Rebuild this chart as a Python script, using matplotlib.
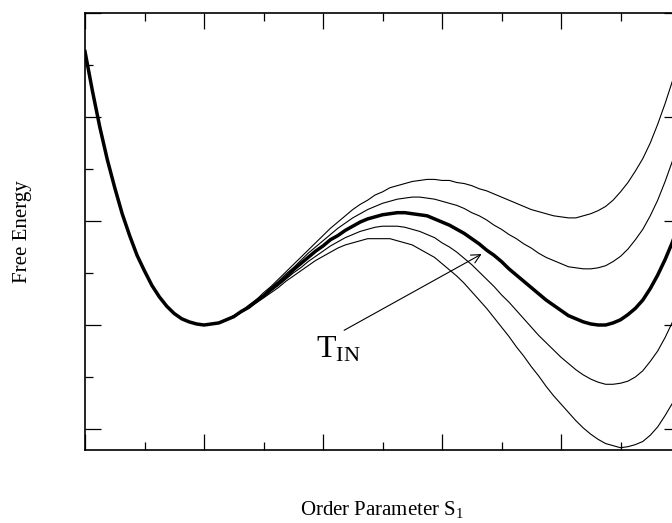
#!/usr/bin/env python3
"""
Свободная энергия vs параметр порядка S1 (семейство кривых около T_IN)
"""

import matplotlib
matplotlib.use("Agg")
import matplotlib.pyplot as plt
from matplotlib.ticker import MultipleLocator

# Параметр порядка (общая сетка для всех кривых, шаг 1/16)
order_param = [
    0.0, 0.0625, 0.125, 0.1875, 0.25, 0.3125, 0.375, 0.4375,
    0.5, 0.5625, 0.625, 0.6875, 0.75, 0.8125, 0.875, 0.9375,
    1.0, 1.0625, 1.125, 1.1875, 1.25, 1.3125, 1.375, 1.4375,
    1.5, 1.5625, 1.625, 1.6875, 1.75, 1.8125, 1.875, 1.9375,
    2.0, 2.0625, 2.125, 2.1875, 2.25, 2.3125, 2.375, 2.4375,
    2.5, 2.5625, 2.625, 2.6875, 2.75, 2.8125, 2.875, 2.9375,
    3.0, 3.0625, 3.125, 3.1875, 3.25, 3.3125, 3.375, 3.4375,
    3.5, 3.5625, 3.625, 3.6875, 3.75, 3.8125, 3.875, 3.9375,
    4.0, 4.0625, 4.125, 4.1875, 4.25, 4.3125, 4.375, 4.4375,
    4.5, 4.5625, 4.625, 4.6875, 4.75, 4.8125, 4.875, 4.9375, 5.0]

# левая ветвь (S от 0 до 1) одинакова для всех температур
left_branch = [3.63, 3.25, 2.90, 2.59, 2.32, 2.07, 1.86, 1.67,
               1.52, 1.38, 1.27, 1.18, 1.11, 1.06, 1.03, 1.01, 1.00]

energy_t1 = left_branch + [
    1.01, 1.02, 1.05, 1.09, 1.13, 1.19, 1.24,
    1.31, 1.37, 1.44, 1.51, 1.58, 1.65, 1.72, 1.79,
    1.86, 1.93, 1.99, 2.05, 2.11, 2.16, 2.20, 2.25,
    2.28, 2.32, 2.34, 2.36, 2.38, 2.39, 2.40, 2.40,
    2.39, 2.39, 2.37, 2.36, 2.34, 2.31, 2.29, 2.26,
    2.23, 2.20, 2.17, 2.14, 2.11, 2.09, 2.07, 2.05,
    2.04, 2.03, 2.03, 2.05, 2.07, 2.10, 2.14, 2.20,
    2.28, 2.37, 2.48, 2.60, 2.75, 2.93, 3.13, 3.35, 3.61]

energy_t2 = left_branch + [
    1.01, 1.02, 1.05, 1.09, 1.13, 1.18, 1.23,
    1.29, 1.36, 1.42, 1.49, 1.55, 1.62, 1.69, 1.75,
    1.81, 1.87, 1.93, 1.98, 2.03, 2.07, 2.11, 2.14,
    2.17, 2.19, 2.21, 2.22, 2.23, 2.23, 2.22, 2.21,
    2.19, 2.17, 2.15, 2.12, 2.08, 2.05, 2.01, 1.96,
    1.92, 1.87, 1.83, 1.78, 1.74, 1.69, 1.65, 1.62,
    1.59, 1.56, 1.55, 1.54, 1.54, 1.55, 1.57, 1.61,
    1.66, 1.73, 1.82, 1.92, 2.05, 2.20, 2.38, 2.58, 2.81]

energy_tin = left_branch + [
    1.01, 1.02, 1.05, 1.08, 1.13, 1.17, 1.23,
    1.28, 1.34, 1.40, 1.46, 1.53, 1.59, 1.65, 1.71,
    1.76, 1.82, 1.86, 1.91, 1.95, 1.99, 2.02, 2.04,
    2.06, 2.07, 2.08, 2.08, 2.07, 2.06, 2.05, 2.02,
    1.99, 1.96, 1.92, 1.88, 1.83, 1.78, 1.72, 1.67,
    1.61, 1.54, 1.48, 1.42, 1.36, 1.30, 1.24, 1.19,
    1.14, 1.09, 1.06, 1.03, 1.01, 1.00, 1.00, 1.02,
    1.05, 1.10, 1.16, 1.24, 1.35, 1.48, 1.63, 1.80, 2.01]

energy_t4 = left_branch + [
    1.01, 1.02, 1.05, 1.08, 1.12, 1.17, 1.22,
    1.27, 1.33, 1.38, 1.44, 1.50, 1.55, 1.61, 1.66,
    1.71, 1.76, 1.80, 1.84, 1.87, 1.90, 1.92, 1.94,
    1.95, 1.95, 1.95, 1.94, 1.92, 1.90, 1.87, 1.84,
    1.79, 1.75, 1.70, 1.64, 1.58, 1.51, 1.44, 1.37,
    1.29, 1.22, 1.14, 1.06, 0.98, 0.90, 0.83, 0.76,
    0.69, 0.63, 0.57, 0.52, 0.48, 0.45, 0.43, 0.43,
    0.44, 0.46, 0.50, 0.56, 0.65, 0.75, 0.88, 1.03, 1.21]

energy_t5 = left_branch + [
    1.01, 1.02, 1.05, 1.08, 1.12, 1.16, 1.21,
    1.26, 1.31, 1.36, 1.42, 1.47, 1.52, 1.57, 1.62,
    1.66, 1.70, 1.74, 1.77, 1.79, 1.81, 1.83, 1.83,
    1.83, 1.83, 1.81, 1.79, 1.77, 1.73, 1.69, 1.65,
    1.59, 1.53, 1.47, 1.40, 1.32, 1.24, 1.16, 1.07,
    0.98, 0.89, 0.79, 0.70, 0.60, 0.51, 0.41, 0.32,
    0.24, 0.16, 0.08, 0.01, -0.05, -0.10, -0.14, -0.16,
    -0.18, -0.17, -0.15, -0.12, -0.06, 0.02, 0.13, 0.25, 0.41]

thin_curves = [energy_t1, energy_t2, energy_t4, energy_t5]

# стрелка к кривой T_IN
arrow_start = (2.157, 0.936)
arrow_end = (3.353, 1.695)
label_pos = (1.94, 0.69)


def plot_free_energy():
    plt.rcParams['font.family'] = ['Liberation Serif', 'DejaVu Serif']
    plt.rcParams['mathtext.fontset'] = 'custom'
    plt.rcParams['mathtext.rm'] = 'Liberation Serif'
    plt.rcParams['mathtext.it'] = 'Liberation Serif:italic'

    fig = plt.figure(figsize=(6.72, 5.23), dpi=100)
    # правая граница осей уходит за край картинки (как в оригинале)
    ax = fig.add_axes([85 / 672, 1 - 450 / 523, 595 / 672, 437 / 523])

    for curve in thin_curves:
        ax.plot(order_param, curve, color='black', linewidth=0.8)
    ax.plot(order_param, energy_tin, color='black', linewidth=2.5)

    ax.annotate('', xy=arrow_end, xytext=arrow_start,
                arrowprops=dict(arrowstyle='->', color='black', lw=0.8,
                                mutation_scale=16))
    ax.text(label_pos[0], label_pos[1], r'$\mathrm{T}_{\mathrm{IN}}$',
            fontsize=23, ha='left', va='baseline')

    ax.set_xlim(0, 5)
    ax.set_ylim(-0.2019, 4)
    ax.xaxis.set_major_locator(MultipleLocator(1))
    ax.xaxis.set_minor_locator(MultipleLocator(0.5))
    ax.yaxis.set_major_locator(MultipleLocator(1))
    ax.yaxis.set_minor_locator(MultipleLocator(0.5))
    ax.tick_params(which='both', direction='in', top=True, right=True,
                   labelbottom=False, labelleft=False, width=0.9)
    ax.tick_params(which='major', length=11.5)
    ax.tick_params(which='minor', length=5.8)
    for sp in ax.spines.values():
        sp.set_linewidth(1.2)

    fig.text(23 / 672, 1 - 232 / 523, 'Free Energy', rotation=90,
             ha='center', va='center', fontsize=15)
    fig.text(382 / 672, 1 - 510 / 523, r'Order Parameter S$_\mathrm{1}$',
             ha='center', va='center', fontsize=15)

    fig.savefig('out.png', dpi=100)
    plt.close(fig)


if __name__ == "__main__":
    plot_free_energy()
